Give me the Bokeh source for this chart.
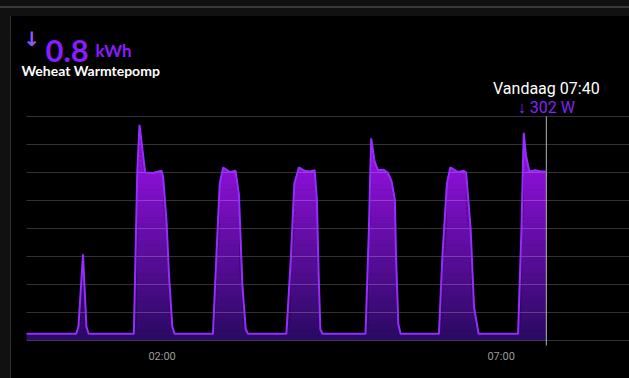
import numpy as np
from bokeh.plotting import figure
from bokeh.models import Label
from bokeh.embed import file_html
from bokeh.resources import INLINE

# ---- data (minutes since midnight, power in W) ----
minutes = [0, 44, 46, 50, 53, 55,
           95, 98, 100, 105, 112, 119.5, 121, 124, 126, 129, 131,
           165, 168, 171, 174, 179, 181, 185, 188, 191, 194, 196,
           230, 234, 237, 241, 246, 251, 255, 257, 258.5, 260, 262,
           300, 303, 305, 308, 311, 316, 319.5, 323, 326, 327, 329, 331,
           365, 368, 372, 375, 380, 382, 387, 389, 393, 396, 400,
           435, 438, 440, 442, 445, 450, 455, 460]
power = [12, 12, 25, 154, 25, 12,
         12, 300, 385, 300, 299, 303, 290, 210, 120, 25, 12,
         12, 150, 280, 309, 302, 301, 303, 260, 100, 20, 12,
         12, 150, 280, 309, 303, 302, 304, 250, 120, 20, 12,
         12, 200, 361, 320, 304, 305, 300, 285, 250, 150, 30, 12,
         12, 150, 280, 309, 303, 301, 303, 300, 200, 60, 12,
         12, 200, 371, 330, 302, 304, 302, 302]
grid_values = [0, 50, 100, 150, 200, 250, 300, 350, 400]
tick_minutes = [120, 420]
tick_labels = ["02:00", "07:00"]
cursor_minute = 460
cursor_title = "Vandaag 07:40"
cursor_value = "↓ 302 W"
total_value = "0.8"
total_unit = "kWh"
entity_name = "Weheat Warmtepomp"

x = np.array(minutes, dtype=float)
v = np.array(power, dtype=float)

X_START, X_END = -13.27, 533.6
Y_START, Y_END = -67.9, 578.6

p = figure(width=618, height=362, output_backend="svg", toolbar_location=None,
           x_range=(X_START, X_END), y_range=(Y_START, Y_END),
           x_axis_location=None, y_axis_location=None,
           background_fill_color="black", border_fill_color="black", min_border=0)
p.outline_line_color = None
p.grid.visible = False

# gradient fill emulated by stacked bands
def band_color(y):
    t = min(max(y / 310.0, 0), 1.25)
    c0 = np.array([42, 10, 98])
    c1 = np.array([140, 16, 214])
    c = np.clip(c0 + (c1 - c0) * t, 0, 255).astype(int)
    return "#%02x%02x%02x" % tuple(c)

step = 10
for lo in range(0, 400, step):
    hi = lo + step
    y1 = np.minimum(v, max(lo - 0.8, 0))
    y2 = np.minimum(v, hi)
    p.varea(x=x, y1=y1, y2=y2, fill_color=band_color(lo + step / 2), fill_alpha=1.0)

# horizontal grid lines from the grid values
n = len(grid_values)
p.segment(x0=[0] * n, x1=[X_END] * n, y0=grid_values, y1=grid_values,
          line_color="white", line_alpha=0.2, line_width=1)

# cursor
p.segment(x0=[cursor_minute], x1=[cursor_minute], y0=[max(grid_values)], y1=[-9],
          line_color="#b5b5b5", line_width=1)

p.line(x, v, line_color="#962dff", line_width=2)

# x tick labels
for t, l in zip(tick_minutes, tick_labels):
    p.add_layout(Label(x=t, y=22, x_units="data", y_units="screen", text=l,
                       text_align="center", text_baseline="middle", text_color="#9a9a9a",
                       text_font="Roboto", text_font_size="11px"))

# header texts (screen units are relative to the frame's lower-left corner)
p.add_layout(Label(x=cursor_minute, y=290, x_units="data", y_units="screen", text=cursor_title,
                   text_align="center", text_baseline="alphabetic", text_color="white",
                   text_font="Roboto", text_font_size="16px"))
p.add_layout(Label(x=cursor_minute, y=271, x_units="data", y_units="screen", text=cursor_value,
                   text_align="center", text_baseline="alphabetic", text_color="#8424f5",
                   text_font="Roboto", text_font_size="16px"))
p.add_layout(Label(x=12, y=340, x_units="screen", y_units="screen", text="↓",
                   text_align="left", text_baseline="alphabetic", text_color="#8a5cf6",
                   text_font="DejaVu Sans", text_font_style="bold", text_font_size="20px"))
p.add_layout(Label(x=34, y=328, x_units="screen", y_units="screen", text=total_value,
                   text_align="left", text_baseline="alphabetic", text_color="#8a1cff",
                   text_font="Lato", text_font_style="bold", text_font_size="31px"))
p.add_layout(Label(x=84, y=328, x_units="screen", y_units="screen", text=total_unit,
                   text_align="left", text_baseline="alphabetic", text_color="#8a1cff",
                   text_font="Lato", text_font_style="bold", text_font_size="17px"))
p.add_layout(Label(x=10, y=308, x_units="screen", y_units="screen", text=entity_name,
                   text_align="left", text_baseline="alphabetic", text_color="white",
                   text_font="Lato", text_font_style="bold", text_font_size="14px"))

html = file_html(p, INLINE)
css = ("<style>html,body{background-color:#000 !important;}"
       "body{padding:16px 0 0 11px !important;background-repeat:no-repeat !important;"
       "background-image:linear-gradient(to bottom,#111 0px,#111 6px,#3a3a3a 6px,#3a3a3a 8px,#111 8px,#111 16px,transparent 16px),"
       "linear-gradient(to right,#111 0px,#111 10px,#2e2e2e 10px,#2e2e2e 11px,transparent 11px) !important;}</style>")
html = html.replace("</head>", css + "</head>", 1)
open("out.html", "w").write(html)
